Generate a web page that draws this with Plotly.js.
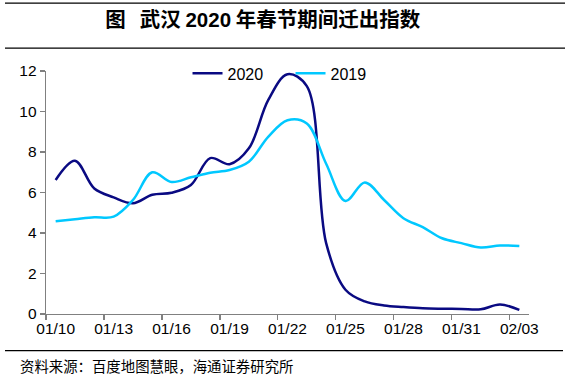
<!DOCTYPE html>
<html>
<head>
<meta charset="utf-8">
<script src="https://cdn.plot.ly/plotly-3.0.1.min.js"></script>
<style>html,body{margin:0;padding:0;background:#fff;}#chart{width:570px;height:379px;}</style>
</head>
<body>
<div id="chart"></div>
<script>
const dates = ['01/10','01/11','01/12','01/13','01/14','01/15','01/16','01/17','01/18','01/19','01/20','01/21','01/22','01/23','01/24','01/25','01/26','01/27','01/28','01/29','01/30','01/31','02/01','02/02','02/03'];
const idx2020 = [6.62,7.57,6.20,5.76,5.47,5.89,5.99,6.37,7.70,7.40,8.18,10.56,11.84,11.25,3.50,1.20,0.62,0.42,0.34,0.28,0.26,0.25,0.23,0.47,0.20];
const idx2019 = [4.58,4.68,4.78,4.81,5.63,7.00,6.52,6.75,6.98,7.11,7.52,8.75,9.57,9.41,7.42,5.58,6.50,5.63,4.73,4.29,3.74,3.50,3.28,3.38,3.36];
const seriesNames = ['2020','2019'];
const yTicks = [0,2,4,6,8,10,12];
const titleText = '图\u00a0\u00a0\u00a0武汉 <b style="font-family:Arial">2020</b> 年春节期间迁出指数';
const sourceText = '资料来源：百度地图慧眼，海通证券研究所';

const xs = dates.map((d,i)=>i);
const labelStep = 3;
const majorVals = xs.filter(i=>i%labelStep===0);
const majorText = majorVals.map(i=>dates[i]);
const minorVals = majorVals.map(i=>i-0.5);

const traces = [
  {x: xs, y: idx2020, name: seriesNames[0], type:'scatter', mode:'lines',
   line:{color:'#0a0a82', width:2.5, shape:'spline', smoothing:1}},
  {x: xs, y: idx2019, name: seriesNames[1], type:'scatter', mode:'lines',
   line:{color:'#00c8ff', width:2.5, shape:'spline', smoothing:1}}
];

const axisGray = '#808080';
const layout = {
  width:570, height:379,
  margin:{l:46, r:41, t:71, b:65},
  paper_bgcolor:'#fff', plot_bgcolor:'#fff',
  font:{family:'Arial, Liberation Sans, sans-serif', size:15.5, color:'#000'},
  title:{text:titleText, x:0.461, xref:'container', xanchor:'center', y:1-20/379, yref:'container', yanchor:'middle',
    font:{family:'Noto Sans CJK SC, sans-serif', size:20.5, color:'#000', weight:'bold'}},
  showlegend:true,
  legend:{orientation:'h', x:0.293, xanchor:'left', y:0.99, yanchor:'middle', bgcolor:'rgba(0,0,0,0)',
    entrywidth:58, entrywidthmode:'pixels', font:{size:16, color:'#000'}},
  xaxis:{range:[-0.5,24.5], tickmode:'array', tickvals:majorVals, ticktext:majorText, ticks:'',
    showline:true, linecolor:axisGray, linewidth:1.3, showgrid:false, zeroline:false,
    tickfont:{size:15.5, color:'#000'},
    minor:{tickmode:'array', tickvals:minorVals, ticks:'outside', ticklen:5, tickcolor:axisGray, tickwidth:1.3, showgrid:false}},
  yaxis:{range:[0,12], tickmode:'array', tickvals:yTicks, ticks:'outside', ticklen:5, tickcolor:axisGray, tickwidth:1.3,
    showline:true, linecolor:axisGray, linewidth:1.3, showgrid:false, zeroline:false,
    tickfont:{size:15.5, color:'#000'}},
  shapes:[
    {type:'line', xref:'paper', yref:'paper', x0:(5-46)/483, x1:(565-46)/483, y0:(314.3-3)/243.3, y1:(314.3-3)/243.3, line:{color:'#000', width:1.2}},
    {type:'line', xref:'paper', yref:'paper', x0:(5-46)/483, x1:(565-46)/483, y0:(314.3-48)/243.3, y1:(314.3-48)/243.3, line:{color:'#000', width:1.2}},
    {type:'line', xref:'paper', yref:'paper', x0:(5-46)/483, x1:(563-46)/483, y0:(314.3-351)/243.3, y1:(314.3-351)/243.3, line:{color:'#000', width:1.2}}
  ],
  annotations:[
    {text:sourceText, xref:'paper', yref:'paper', x:(18-46)/483, xanchor:'left', y:(314.3-366)/243.3, yanchor:'middle',
     showarrow:false, font:{family:'Noto Sans CJK SC, sans-serif', size:14.4, color:'#000'}}
  ]
};
Plotly.newPlot('chart', traces, layout, {displayModeBar:false, staticPlot:true});
</script>
</body>
</html>
